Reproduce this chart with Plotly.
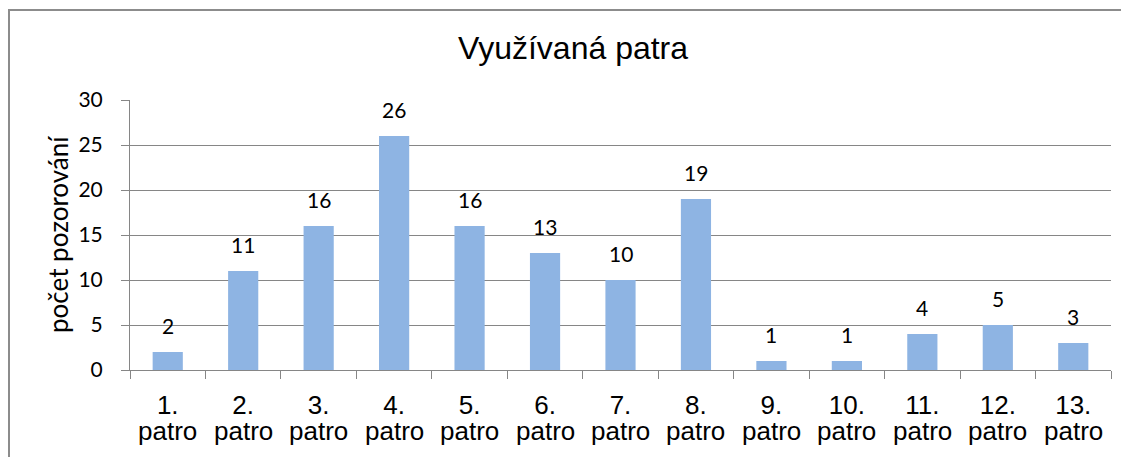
import plotly.graph_objects as go

floor_nums = ["1.", "2.", "3.", "4.", "5.", "6.", "7.", "8.", "9.", "10.", "11.", "12.", "13."]
floor_word = "patro"
counts = [2, 11, 16, 26, 16, 13, 10, 19, 1, 1, 4, 5, 3]
y_ticks = [0, 5, 10, 15, 20, 25, 30]

NUM_FONT = "Lato, Open Sans, sans-serif"
ARIAL = "Liberation Sans, Arial, sans-serif"

fig = go.Figure()
fig.add_trace(go.Bar(x=floor_nums, y=counts, marker=dict(color="#8EB4E3", line=dict(width=0)),
                     width=0.4, hoverinfo="x+y"))

# category axis: annotations positioned by category index
for i, c in enumerate(counts):
    fig.add_annotation(x=i, y=c, text=str(c), showarrow=False, yanchor="middle", yshift=27,
                       font=dict(family=NUM_FONT, size=21, color="#000"))
    fig.add_annotation(x=i, yref="paper", y=(370 - 431) / 270, text=floor_word, showarrow=False,
                       xanchor="center", yanchor="middle",
                       font=dict(family=ARIAL, size=26, color="#000"))

fig.add_annotation(xref="paper", yref="paper", x=(573 - 130) / 981, y=(370 - 48) / 270,
                   text="Využívaná patra", showarrow=False, xanchor="center", yanchor="middle",
                   font=dict(family=ARIAL, size=32, color="#000"))

fig.add_annotation(xref="paper", yref="paper", x=(58 - 130) / 981, y=(370 - 235) / 270,
                   text="počet pozorování", showarrow=False, xanchor="center", yanchor="middle",
                   textangle=-90, font=dict(family=NUM_FONT, size=26, color="#000"))

fig.add_shape(type="rect", xref="paper", yref="paper",
              x0=(9 - 130) / 981, x1=(1140 - 130) / 981,
              y0=(370 - 470) / 270, y1=(370 - 10) / 270,
              line=dict(color="#8C8C8C", width=2), fillcolor="rgba(0,0,0,0)", layer="below")

fig.update_layout(
    width=1121, height=449,
    margin=dict(l=122, r=18, t=92, b=87),
    plot_bgcolor="white", paper_bgcolor="white",
    showlegend=False,
    xaxis=dict(type="category", tickson="boundaries", ticks="outside", ticklen=8,
               tickcolor="#868686",
               showline=True, linecolor="#868686", linewidth=1, showgrid=False,
               ticklabelstandoff=12,
               tickfont=dict(family=ARIAL, size=26, color="#000")),
    yaxis=dict(range=[0, 30], tickvals=y_ticks, ticks="outside", ticklen=8, tickcolor="#868686",
               showline=True, linecolor="#868686", linewidth=1,
               showgrid=True, gridcolor="#868686", gridwidth=1, zeroline=False,
               ticklabelstandoff=14,
               tickfont=dict(family=NUM_FONT, size=21, color="#000")),
)

fig.write_html("out.html")
